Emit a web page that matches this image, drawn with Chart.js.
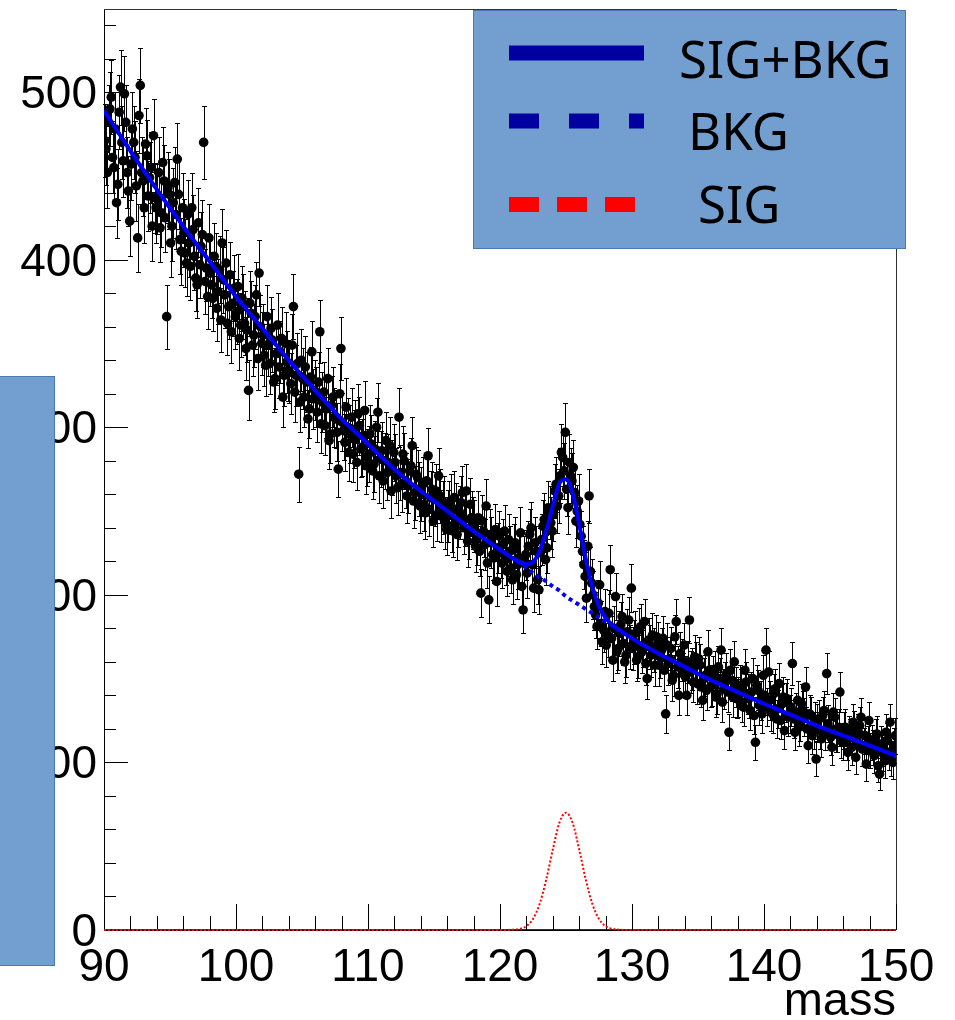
<!DOCTYPE html>
<html>
<head>
<meta charset="utf-8">
<script src="https://cdn.jsdelivr.net/npm/chart.js@4"></script>
<style>
  html, body { margin: 0; padding: 0; background: #fff; }
  #chart { display: block; }
</style>
</head>
<body>
<canvas id="chart" width="955" height="1020"></canvas>
<script>
// binned data: 600 bins of 0.1 from 90 to 150, one row = 2 units of mass
const binLow = 90;
const binWidth = 0.1;
const counts = [
  471, 466, 452, 482, 490, 497, 461, 455, 478, 434, 445, 488, 503, 470, 459, 499, 482, 452, 441, 423,
  457, 478, 470, 461, 444, 413, 486, 504, 452, 447, 431, 469, 462, 438, 449, 455, 420, 474, 437, 431,
  436, 452, 419, 428, 458, 447, 425, 366, 443, 439, 410, 420, 434, 446, 427, 460, 439, 412, 405, 431,
  416, 404, 398, 427, 410, 396, 431, 418, 402, 389, 385, 422, 397, 408, 415, 470, 387, 395, 378, 413,
  392, 385, 377, 402, 396, 371, 381, 394, 364, 410, 388, 379, 398, 362, 372, 391, 357, 374, 383, 366,
  369, 384, 353, 361, 377, 372, 362, 347, 358, 322, 374, 368, 349, 355, 366, 379, 341, 392, 360, 350,
  355, 343, 337, 366, 349, 338, 359, 352, 327, 329, 344, 361, 336, 345, 353, 318, 331, 350, 339, 334,
  333, 326, 349, 372, 321, 331, 338, 272, 315, 340, 329, 318, 336, 327, 305, 311, 330, 345, 317, 322,
  318, 309, 327, 357, 302, 315, 321, 301, 311, 329, 292, 296, 313, 318, 306, 305, 297, 275, 320, 347,
  303, 298, 291, 312, 300, 285, 296, 306, 284, 293, 299, 279, 308, 301, 287, 288, 295, 310, 277, 282,
  284, 296, 290, 274, 278, 287, 300, 309, 271, 281, 286, 268, 280, 292, 273, 279, 289, 262, 276, 285,
  279, 271, 264, 306, 273, 266, 284, 280, 268, 259, 265, 274, 277, 289, 256, 261, 272, 270, 263, 253,
  260, 266, 254, 249, 268, 283, 251, 258, 263, 244, 257, 262, 248, 271, 259, 247, 252, 255, 243, 239,
  247, 252, 256, 241, 238, 258, 251, 236, 244, 249, 255, 261, 240, 245, 262, 232, 237, 254, 246, 243,
  241, 229, 233, 246, 226, 201, 244, 238, 230, 253, 219, 197, 236, 231, 224, 222, 239, 208, 228, 235,
  225, 219, 230, 238, 221, 214, 233, 226, 216, 209, 227, 231, 212, 218, 222, 237, 205, 191, 220, 224,
  213, 229, 236, 240, 218, 204, 231, 226, 209, 203, 225, 233, 241, 245, 221, 228, 252, 249, 243, 238,
  248, 262, 266, 253, 259, 271, 285, 282, 274, 297, 263, 252, 279, 271, 268, 276, 261, 244, 250, 256,
  242, 235, 226, 218, 211, 198, 229, 259, 214, 207, 200, 193, 188, 181, 195, 206, 183, 172, 179, 190,
  170, 176, 189, 215, 174, 161, 180, 199, 166, 168, 177, 182, 187, 171, 160, 164, 178, 185, 169, 204,
  168, 172, 177, 161, 163, 179, 181, 166, 170, 184, 159, 150, 173, 169, 164, 176, 167, 158, 175, 171,
  158, 163, 167, 174, 155, 129, 170, 159, 162, 168, 149, 152, 175, 184, 157, 140, 165, 161, 153, 170,
  151, 140, 160, 185, 154, 156, 148, 163, 159, 147, 162, 158, 145, 137, 150, 152, 143, 166, 155, 145,
  146, 151, 154, 139, 141, 157, 150, 167, 136, 144, 148, 153, 142, 118, 155, 149, 139, 160, 145, 138,
  139, 146, 144, 136, 133, 155, 148, 141, 138, 131, 142, 150, 128, 112, 146, 143, 134, 137, 129, 152,
  140, 167, 133, 154, 137, 130, 129, 141, 144, 126, 132, 147, 125, 135, 139, 119, 136, 138, 127, 129,
  133, 159, 126, 118, 130, 137, 121, 124, 135, 131, 127, 145, 120, 110, 129, 128, 116, 119, 125, 102,
  124, 126, 119, 114, 128, 131, 118, 153, 123, 120, 115, 109, 130, 127, 117, 117, 121, 142, 113, 112,
  119, 121, 112, 106, 117, 115, 109, 124, 120, 103, 113, 118, 122, 127, 108, 110, 116,  99, 111, 125,
  107, 112, 109, 104, 115, 117,  98,  93, 111, 108, 105, 101, 118, 113, 106, 124, 102, 100, 110, 116
];

// fitted curves
const fitMass = [90, 92, 94, 96, 98, 100, 102, 104, 106, 108, 110, 112, 114, 116, 118, 120,
  121, 121.5, 122, 122.5, 123, 123.5, 124, 124.5, 125, 125.5, 126, 126.5, 127, 127.5, 128, 128.5, 129,
  130, 132, 134, 136, 138, 140, 142, 144, 146, 148, 150];
const bkgCurve = [489, 465, 442, 420, 399, 378, 359, 340, 322, 305, 290, 275, 262, 250, 238, 227,
  221.5, 219, 216, 213, 210.5, 208, 205, 202.5, 199, 196.5, 194, 191.5, 189, 186.5, 184, 181.5, 179,
  174, 165, 157, 149, 142, 135, 128.5, 122, 116, 110, 104];
const sigCurve = [0, 0, 0, 0, 0, 0, 0, 0, 0, 0, 0, 0, 0, 0, 0, 0,
  0.2, 0.7, 2.3, 6.6, 15.5, 30, 48, 64, 70, 64, 48, 30, 15.5, 6.6, 2.3, 0.7, 0.2,
  0, 0, 0, 0, 0, 0, 0, 0, 0, 0, 0];

const legendLabels = ["SIG+BKG", "BKG", "SIG"];
const xTicks = [90, 100, 110, 120, 130, 140, 150];
const yTicks = [0, 100, 200, 300, 400, 500];
const xTitle = "mass";

const dataPts = counts.map((c, i) => ({ x: binLow + binWidth * (i + 0.5), y: c }));
const totalPts = fitMass.map((m, i) => ({ x: m, y: bkgCurve[i] + sigCurve[i] }));
const bkgPts = fitMass.map((m, i) => ({ x: m, y: bkgCurve[i] }));
const sigPts = fitMass.map((m, i) => ({ x: m, y: sigCurve[i] }));

const LEGEND_FILL = '#729fcf';
const LEGEND_EDGE = '#4a78b0';

const rootFrame = {
  id: 'rootFrame',
  beforeDatasetsDraw(chart) {
    const ctx = chart.ctx, xs = chart.scales.x, ys = chart.scales.y;
    const a = chart.chartArea;
    ctx.save();
    // frame
    ctx.strokeStyle = '#333';
    ctx.lineWidth = 1;
    ctx.strokeRect(a.left + 0.5, a.top - 0.5, a.right - a.left, a.bottom - a.top);
    ctx.strokeStyle = '#000';
    ctx.beginPath();
    ctx.moveTo(a.left, a.bottom + 0.5); ctx.lineTo(a.right, a.bottom + 0.5);
    ctx.moveTo(a.left + 0.5, a.top); ctx.lineTo(a.left + 0.5, a.bottom);
    // x ticks, pointing up into the frame
    for (let v = 90; v <= 150; v += 2) {
      const px = Math.round(xs.getPixelForValue(v)) + 0.5;
      const len = (v % 10 === 0) ? 26 : 14;
      ctx.moveTo(px, a.bottom); ctx.lineTo(px, a.bottom - len);
    }
    // y ticks, pointing right into the frame
    for (let v = 0; v <= 540; v += 20) {
      const py = Math.round(ys.getPixelForValue(v)) + 0.5;
      const len = (v % 100 === 0) ? 24 : 12;
      ctx.moveTo(a.left, py); ctx.lineTo(a.left + len, py);
    }
    ctx.stroke();

    // poisson error bars under the markers
    ctx.strokeStyle = '#000';
    ctx.beginPath();
    dataPts.forEach(p => {
      const e = Math.sqrt(p.y);
      const px = Math.round(xs.getPixelForValue(p.x)) + 0.5;
      const top = Math.round(ys.getPixelForValue(p.y + e)) + 0.5;
      const bot = Math.round(ys.getPixelForValue(p.y - e)) + 0.5;
      ctx.moveTo(px, top); ctx.lineTo(px, bot);
      ctx.moveTo(px - 2.5, top); ctx.lineTo(px + 2.5, top);
      ctx.moveTo(px - 2.5, bot); ctx.lineTo(px + 2.5, bot);
    });
    ctx.stroke();
    ctx.restore();
  },
  afterDraw(chart) {
    const ctx = chart.ctx, xs = chart.scales.x, ys = chart.scales.y;
    const a = chart.chartArea;
    ctx.save();
    // tick labels
    ctx.fillStyle = '#000';
    ctx.font = '46px "Liberation Sans", Arial, sans-serif';
    ctx.textBaseline = 'alphabetic';
    ctx.textAlign = 'center';
    xTicks.forEach(v => ctx.fillText(String(v), xs.getPixelForValue(v), 981));
    ctx.textAlign = 'right';
    yTicks.forEach(v => ctx.fillText(String(v), 97, ys.getPixelForValue(v) + 16));
    ctx.font = '47px "Liberation Sans", Arial, sans-serif';
    ctx.fillText(xTitle, a.right, 1015);

    // stray box on the left side
    ctx.fillStyle = LEGEND_FILL;
    ctx.fillRect(0, 376, 55, 590);
    ctx.strokeStyle = LEGEND_EDGE;
    ctx.lineWidth = 1;
    ctx.strokeRect(-0.5, 376.5, 55, 589);

    // legend box
    ctx.fillStyle = LEGEND_FILL;
    ctx.fillRect(473, 10, 433, 239);
    ctx.strokeStyle = LEGEND_EDGE;
    ctx.strokeRect(473.5, 10.5, 432, 238);

    ctx.lineCap = 'butt';
    ctx.lineWidth = 15;
    const samples = [
      { y: 53, color: '#0000a0', dash: [], end: 644 },
      { y: 121, color: '#0000a0', dash: [30, 30], end: 644 },
      { y: 204.5, color: '#ff0000', dash: [30, 18], end: 636 }
    ];
    samples.forEach(s => {
      ctx.strokeStyle = s.color;
      ctx.setLineDash(s.dash);
      ctx.beginPath();
      ctx.moveTo(509, s.y); ctx.lineTo(s.end, s.y);
      ctx.stroke();
    });
    ctx.setLineDash([]);
    ctx.fillStyle = '#000';
    ctx.textAlign = 'left';
    ctx.font = '51px "Noto Sans", sans-serif';
    const textPos = [[679, 78], [688, 150], [698, 223]];
    legendLabels.forEach((t, i) => ctx.fillText(t, textPos[i][0], textPos[i][1]));
    ctx.restore();
  }
};

new Chart(document.getElementById('chart'), {
  type: 'scatter',
  data: {
    datasets: [
      { label: legendLabels[0], data: totalPts, showLine: true, borderColor: '#0000ff', borderWidth: 4,
        pointRadius: 0, cubicInterpolationMode: 'monotone', order: 0 },
      { label: legendLabels[1], data: bkgPts, showLine: true, borderColor: '#0000ff', borderWidth: 4,
        borderDash: [4, 4], pointRadius: 0, cubicInterpolationMode: 'monotone', order: 1 },
      { label: 'data', data: dataPts, pointRadius: 4.8, pointBackgroundColor: '#000',
        pointBorderColor: '#000', pointBorderWidth: 0, order: 2 },
      { label: legendLabels[2], data: sigPts, showLine: true, borderColor: '#ff0000', borderWidth: 2,
        borderDash: [2, 2], pointRadius: 0, cubicInterpolationMode: 'monotone', order: 3, clip: 4 }
    ]
  },
  options: {
    responsive: false,
    animation: false,
    devicePixelRatio: 1,
    events: [],
    layout: { padding: { left: 104, right: 59, top: 10, bottom: 90 } },
    plugins: { legend: { display: false }, tooltip: { enabled: false } },
    scales: {
      x: { type: 'linear', min: 90, max: 150, display: false },
      y: { type: 'linear', min: 0, max: 549, display: false }
    }
  },
  plugins: [rootFrame]
});
</script>
</body>
</html>
